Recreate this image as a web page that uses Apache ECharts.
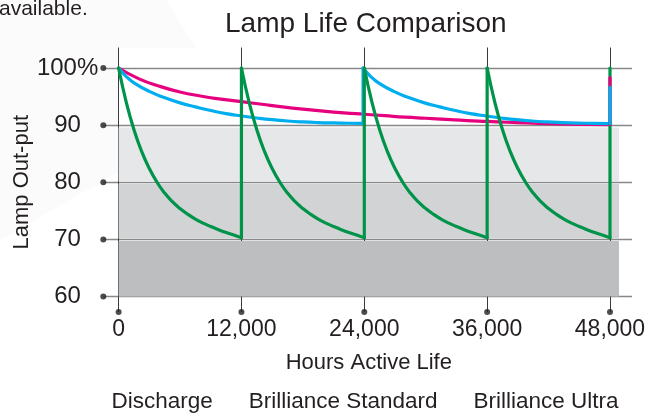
<!DOCTYPE html>
<html><head><meta charset="utf-8">
<script src="https://cdn.jsdelivr.net/npm/echarts@6/dist/echarts.min.js"></script>
<style>html,body{margin:0;padding:0;background:#fff}#c{width:649px;height:417px}</style>
</head><body><div id="c"></div>
<script>
const FONT = '"Liberation Sans", Arial, Helvetica, sans-serif';
const INK = '#231f20';

// ---- data ----
const hourTicks = [0, 12000, 24000, 36000, 48000];
const outputTicks = [60, 70, 80, 90, 100];
const seriesNames = ['Discharge', 'Brilliance Standard', 'Brilliance Ultra'];
const shadeBands = [[89.58, 80.15], [79.72, 70.15], [69.7, 60]];

// Discharge lamp: replaced every 12,000 h
const discharge1 = [[0,100],[750,94.0],[1500,89.2],[2250,85.4],[3000,82.4],[3750,80.0],[4500,78.1],[5250,76.6],[6000,75.4],[6750,74.4],[7500,73.55],[8250,72.85],[9000,72.25],[9750,71.7],[10500,71.2],[11250,70.75],[12000,70.3]];
const discharge2 = [[12000,100],[12750,94.0],[13500,89.2],[14250,85.4],[15000,82.4],[15750,80.0],[16500,78.1],[17250,76.6],[18000,75.4],[18750,74.4],[19500,73.55],[20250,72.85],[21000,72.25],[21750,71.7],[22500,71.2],[23250,70.75],[24000,70.3]];
const discharge3 = [[24000,100],[24750,94.0],[25500,89.2],[26250,85.4],[27000,82.4],[27750,80.0],[28500,78.1],[29250,76.6],[30000,75.4],[30750,74.4],[31500,73.55],[32250,72.85],[33000,72.25],[33750,71.7],[34500,71.2],[35250,70.75],[36000,70.3]];
const discharge4 = [[36000,100],[36750,94.0],[37500,89.2],[38250,85.4],[39000,82.4],[39750,80.0],[40500,78.1],[41250,76.6],[42000,75.4],[42750,74.4],[43500,73.55],[44250,72.85],[45000,72.25],[45750,71.7],[46500,71.2],[47250,70.75],[48000,70.3]];
const dischargeJumps = [[12000,70.3,100],[24000,70.3,100],[36000,70.3,100],[48000,70.3,100]];

// Brilliance Standard: replaced every 24,000 h
const standard1 = [[0,100],[750,98.5],[1500,97.4],[3000,95.9],[4500,94.8],[6000,93.9],[7500,93.2],[9000,92.55],[10500,92.0],[12000,91.6],[13500,91.25],[15000,90.95],[16500,90.72],[18000,90.56],[19500,90.45],[21000,90.38],[22500,90.33],[23880,90.3]];
const standard2 = [[23880,100],[24630,98.5],[25380,97.4],[26880,95.9],[28380,94.8],[29880,93.9],[31380,93.2],[32880,92.55],[34380,92.0],[35880,91.6],[37380,91.25],[38880,90.95],[40380,90.72],[41880,90.56],[43380,90.45],[44880,90.36],[46380,90.3],[48000,90.25]];
const standardJumps = [[23880,90.3,100]];
const standardEndJump = [[48000,90.25,96.6]];

// Brilliance Ultra: one lamp for 48,000 h
const ultra = [[0,100],[2000,98.1],[4000,96.8],[6000,95.8],[8000,95.1],[10000,94.55],[12000,94.1],[14000,93.65],[16000,93.2],[18000,92.8],[20000,92.45],[22000,92.15],[24000,91.9],[26000,91.65],[28000,91.4],[30000,91.2],[32000,91.0],[34000,90.8],[36000,90.65],[38000,90.5],[40000,90.38],[42000,90.27],[44000,90.18],[46000,90.12],[48000,90.1]];
const ultraEndJump = [[48000,90.1,98.3]];

// ---- styling ----
const C_GREEN = '#00934a', C_BLUE = '#00aeef', C_MAGENTA = '#e6007e';
const bandColors = ['#e6e7e8', '#d1d3d4', '#bcbec0'];

function curve(name, data, color, z) {
  return {type:'line', name, xAxisIndex:0, yAxisIndex:0, data, smooth:0.5, symbol:'none',
    lineStyle:{color, width:3.2, cap:'round', join:'round'}, itemStyle:{color}, z, clip:false, silent:true};
}
function jumps(name, list, color, z) {
  return list.map(j => ({type:'line', name, xAxisIndex:0, yAxisIndex:0,
    data:[[j[0], j[1]], [j[0], j[2]]], symbol:'none',
    lineStyle:{color, width:3.2, cap:'round'}, itemStyle:{color}, z, clip:false, silent:true}));
}

const series = [
  {type:'line', xAxisIndex:0, yAxisIndex:0, data:[], z:0, silent:true,
   markArea:{silent:true, data: shadeBands.map((b,i)=>[{yAxis:b[0], itemStyle:{color:bandColors[i]}},{yAxis:b[1]}])}},
  curve(seriesNames[2], ultra, C_MAGENTA, 2),
  curve(seriesNames[1], standard1, C_BLUE, 3),
  curve(seriesNames[1], standard2, C_BLUE, 3),
  ...jumps(seriesNames[1], standardJumps, C_BLUE, 3),
  curve(seriesNames[0], discharge1, C_GREEN, 4),
  curve(seriesNames[0], discharge2, C_GREEN, 4),
  curve(seriesNames[0], discharge3, C_GREEN, 4),
  curve(seriesNames[0], discharge4, C_GREEN, 4),
  ...jumps(seriesNames[0], dischargeJumps, C_GREEN, 4),
  ...jumps(seriesNames[2], ultraEndJump, C_MAGENTA, 5),
  ...jumps(seriesNames[1], standardEndJump, C_BLUE, 6),
  {type:'scatter', xAxisIndex:1, yAxisIndex:1, data: outputTicks.map(v=>[0,v]), symbolSize:6,
   itemStyle:{color:INK}, z:7, clip:false, silent:true},
  {type:'scatter', xAxisIndex:2, yAxisIndex:2, data: hourTicks.map(h=>[h,0]), symbolSize:6,
   itemStyle:{color:INK}, z:7, clip:false, silent:true}
];

const chart = echarts.init(document.getElementById('c'), null, {renderer:'canvas'});
chart.setOption({
  animation:false,
  backgroundColor:'#ffffff',
  textStyle:{fontFamily:FONT, color:INK},
  title:{text:'Lamp Life Comparison', left:225, top:10, padding:0,
    textStyle:{fontSize:28, fontWeight:'normal', color:INK, fontFamily:FONT}},
  legend:{data: seriesNames.map(n=>({name:n, icon:'none'})), itemWidth:0, itemHeight:0, itemGap:31,
    left:106.4, top:390, padding:0, selectedMode:false,
    textStyle:{fontSize:22.5, color:INK, fontFamily:FONT}},
  graphic:[
    {type:'polygon', z:-10, silent:true, shape:{points:[[0,0],[166,0],[196,48],[118,48],[118,172],[0,240]]}, style:{fill:'#fbfbfb'}},
    {type:'text', z:-5, silent:true, x:-1, y:20, style:{text:'available.', font:'21px "Liberation Sans", Arial', fill:INK, verticalAlign:'bottom'}}
  ],
  grid:[
    {left:118.6, right:30, top:68, bottom:120.5},
    {left:103.3, right:17, top:68, bottom:120.5},
    {left:118.6, right:39, top:47.5, bottom:105}
  ],
  xAxis:[
    {gridIndex:0, type:'value', min:0, max:48880, interval:12000,
     axisLine:{show:false}, axisTick:{show:false}, splitLine:{show:false},
     axisLabel:{customValues:hourTicks, fontSize:23, margin:22, color:INK, fontFamily:FONT,
       formatter:v=>v.toLocaleString('en-US')},
     name:'Hours Active Life', nameLocation:'middle', nameGap:55,
     nameTextStyle:{fontSize:22, color:INK, fontFamily:FONT}},
    {gridIndex:1, type:'value', min:0, max:1, show:false},
    {gridIndex:2, type:'value', min:0, max:48000, interval:12000, z:1,
     axisLine:{show:false}, axisTick:{show:false}, axisLabel:{show:false},
     splitLine:{show:true, lineStyle:{color:'#3a3a3a', width:1}}}
  ],
  yAxis:[
    {gridIndex:0, type:'value', min:60, max:100, axisLine:{show:false}, axisTick:{show:false},
     axisLabel:{show:false}, splitLine:{show:false},
     name:'Lamp Out-put', nameLocation:'middle', nameGap:86,
     nameTextStyle:{fontSize:22, color:INK, fontFamily:FONT}},
    {gridIndex:1, type:'value', min:60, max:100, interval:10, z:1,
     axisLine:{show:false}, axisTick:{show:false},
     axisLabel:{margin:5, fontSize:24, color:INK, fontFamily:FONT,
       formatter:v=> v===100 ? '100%' : v + '{h|%}',
       rich:{h:{fontSize:19.5, color:'rgba(0,0,0,0)', fontFamily:FONT}}},
     splitLine:{show:true, lineStyle:{color:'#888888', width:1.4}}},
    {gridIndex:2, type:'value', min:0, max:1, show:false}
  ],
  series
});
</script></body></html>
